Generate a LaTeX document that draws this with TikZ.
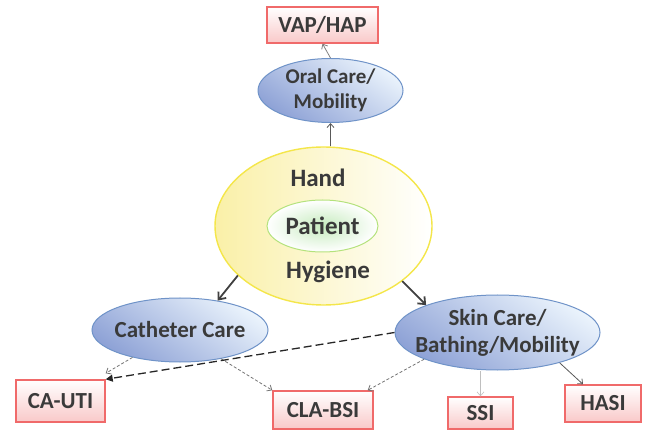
\documentclass[tikz,border=0pt]{standalone}
\usepackage{fontspec}
\setmainfont{Carlito}
\usetikzlibrary{shapes.geometric,arrows.meta}

\definecolor{txtgray}{HTML}{3A3A3A}
\definecolor{bubbleedge}{HTML}{6F93C8}
\definecolor{bubbletop}{HTML}{EAF3FC}
\definecolor{bubblebot}{HTML}{8EA2D6}
\definecolor{boxedge}{HTML}{F06A6A}
\definecolor{boxpink}{HTML}{F9C9C9}
\definecolor{handedge}{HTML}{F4E64A}
\definecolor{handfill}{HTML}{FAF0A8}
\definecolor{patientedge}{HTML}{B4E27C}
\definecolor{patientfill}{HTML}{C6EBBE}

\begin{document}
\begin{tikzpicture}[
    x=1pt, y=-1pt,
    every node/.style={font=\fontsize{23}{27}\selectfont\bfseries, text=txtgray},
    bubble/.style={
        ellipse,
        draw=bubbleedge,
        line width=1pt,
        top color=bubbletop,
        bottom color=bubblebot,
        shading angle=-35,
        inner xsep=-10pt,
        inner ysep=-5pt,
        align=center
    },
    outcome/.style={
        rectangle,
        draw=boxedge,
        line width=1.4pt,
        top color=white,
        bottom color=boxpink,
        inner sep=0pt
    },
    centre/.style={font=\fontsize{25}{29}\selectfont\bfseries},
    mainarrow/.style={-{Straight Barb[length=6pt,width=10pt]}, line width=1.8pt, draw=black!75},
    smallarrow/.style={-{Straight Barb[length=4pt,width=7pt]}, line width=0.8pt, draw=black!65},
    dasharrow/.style={-{Straight Barb[length=4pt,width=7pt]}, densely dashed, line width=0.8pt, draw=black!55}
]
\useasboundingbox (0,0) rectangle (645,430);

% Centre
\node[ellipse, draw=handedge, line width=1.4pt, left color=handfill, right color=white,
      minimum width=217pt, minimum height=158pt] (hand) at (323.5,226) {};
\node[ellipse, draw=patientedge, line width=1pt, inner color=patientfill, outer color=white,
      minimum width=111pt, minimum height=52pt, inner xsep=-8pt, inner ysep=-4pt, centre] (patient) at (322.5,226) {Patient};
\node[centre] (handlbl) at (318,178) {Hand};
\node[centre] (hyglbl) at (328,272) {Hygiene};

% Care practices
\node[bubble, minimum width=145pt, minimum height=64pt, font=\fontsize{21}{25}\selectfont\bfseries] (oral) at (330.5,90.5) {Oral Care/\\Mobility};
\node[bubble, minimum width=176pt, minimum height=64pt] (catheter) at (180,330) {Catheter Care};
\node[bubble, minimum width=205pt, minimum height=75pt] (skin) at (497.5,332.5) {Skin Care/\\Bathing/Mobility};

% Infections
\node[outcome, minimum width=111pt, minimum height=36pt] (vap) at (322.5,25) {VAP/HAP};
\node[outcome, minimum width=89pt, minimum height=42pt] (cauti) at (60.5,401) {CA-UTI};
\node[outcome, minimum width=100pt, minimum height=38pt] (clabsi) at (323,410) {CLA-BSI};
\node[outcome, minimum width=65pt, minimum height=32pt] (ssi) at (480.5,413) {SSI};
\node[outcome, minimum width=76pt, minimum height=37pt] (hasi) at (603,403.5) {HASI};

% Arrows
\draw[smallarrow] (oral.south |- hand.north) -- (oral.south);
\draw[smallarrow, draw=black!50] (oral.north) -- (vap.south);

\draw[mainarrow] (hand.210) -- (catheter.38);
\draw[mainarrow] (hand.-35) -- (skin.159);

\draw[dasharrow] (catheter.210) -- ([yshift=6pt]cauti.north east);
\draw[dasharrow] (catheter.-35) -- (clabsi.north west);

\draw[-{Triangle[length=7pt,width=7pt]}, dashed, dash pattern=on 8pt off 4pt, line width=1.3pt, draw=black!85]
    (skin.west) -- (cauti.north east);
\draw[dasharrow] (skin.200) -- ([xshift=-6pt]clabsi.north east);
\draw[smallarrow, draw=black!25, line width=0.6pt] (ssi.north |- skin.south) -- (ssi.north);
\draw[smallarrow] (skin.-26) -- ([xshift=-20pt]hasi.north);

\end{tikzpicture}
\end{document}
